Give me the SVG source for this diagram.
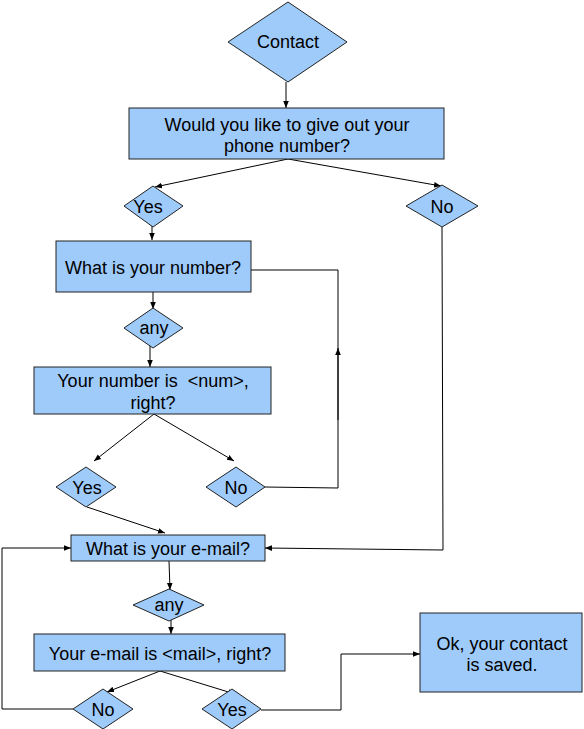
<svg xmlns="http://www.w3.org/2000/svg" width="584" height="729" viewBox="0 0 584 729">
<defs>
<marker id="ah" viewBox="0 0 10 10" refX="10" refY="5" markerWidth="7" markerHeight="7" orient="auto" markerUnits="userSpaceOnUse">
<path d="M0,1 L10,5 L0,9 Z" fill="#000"/>
</marker>
<style>
.n{fill:#9fcbfb;stroke:#222;stroke-width:1}
.t{font-family:"Liberation Sans",Arial,sans-serif;font-size:18px;fill:#000;text-anchor:middle}
.c{fill:none;stroke:#000;stroke-width:1}
.a{marker-end:url(#ah)}
</style>
</defs>
<rect width="584" height="729" fill="#fff"/>
<g id="connectors">
<path class="c a" d="M286,82 L286,108"/>
<path class="c a" d="M288,159 L155,187"/>
<path class="c a" d="M288,159 L441,186"/>
<path class="c a" d="M152,215 L152,240"/>
<path class="c" d="M251,270 L338,270 L338,488 L265,487"/>
<path class="c a" d="M338,420 L338,348"/>
<path class="c a" d="M153,292 L153,309"/>
<path class="c a" d="M150,342 L150,367"/>
<path class="c a" d="M154,414 L94,461"/>
<path class="c a" d="M154,414 L234,461"/>
<path class="c a" d="M87,507 L165,533"/>
<path class="c a" d="M442,227 L443,550 L265,548"/>
<path class="c a" d="M169,561 L170,590"/>
<path class="c a" d="M171,614 L171,634"/>
<path class="c a" d="M160,671 L107,692"/>
<path class="c a" d="M160,671 L235,694"/>
<path class="c a" d="M73,709 L2,709 L2,548 L71,548"/>
<path class="c a" d="M261,710 L341,710 L341,654 L420,654"/>
</g>
<g id="contact"><polygon class="n" points="228,42 288,2 347,42 288,82"/><text class="t" x="288" y="48">Contact</text></g>
<g id="q-phone"><rect class="n" x="129" y="108" width="315" height="51"/><text class="t" x="287" y="131">Would you like to give out your</text><text class="t" x="287" y="152">phone number?</text></g>
<g id="yes1"><polygon class="n" points="124,206 153,186 183,206 153,227"/><text class="t" x="148" y="213">Yes</text></g>
<g id="no1"><polygon class="n" points="406,206 442,185 478,206 442,227"/><text class="t" x="442" y="213">No</text></g>
<g id="q-number"><rect class="n" x="56" y="241" width="195" height="51"/><text class="t" x="153" y="274">What is your number?</text></g>
<g id="any1"><polygon class="n" points="124,328 153,308 183,328 153,348"/><text class="t" x="154" y="334">any</text></g>
<g id="confirm-number"><rect class="n" x="34" y="367" width="237" height="47"/><text class="t" x="153" y="387" xml:space="preserve">Your number is  &lt;num&gt;,</text><text class="t" x="153" y="409">right?</text></g>
<g id="yes2"><polygon class="n" points="56,487 86,467 116,487 86,507"/><text class="t" x="87" y="494">Yes</text></g>
<g id="no2"><polygon class="n" points="206,487 236,467 265,487 236,507"/><text class="t" x="236" y="494">No</text></g>
<g id="q-email"><rect class="n" x="71" y="535" width="194" height="26"/><text class="t" x="168" y="555">What is your e-mail?</text></g>
<g id="any2"><polygon class="n" points="133,605 169,589 204,605 169,621"/><text class="t" x="169" y="611">any</text></g>
<g id="confirm-email"><rect class="n" x="34" y="634" width="251" height="37"/><text class="t" x="160" y="660">Your e-mail is &lt;mail&gt;, right?</text></g>
<g id="no3"><polygon class="n" points="73,709 103,689 133,709 103,729"/><text class="t" x="103" y="716">No</text></g>
<g id="yes3"><polygon class="n" points="202,709 232,689 261,709 232,729"/><text class="t" x="232" y="716">Yes</text></g>
<g id="saved"><rect class="n" x="420" y="613" width="162" height="79"/><text class="t" x="502" y="650">Ok, your contact</text><text class="t" x="502" y="671">is saved.</text></g>
</svg>
